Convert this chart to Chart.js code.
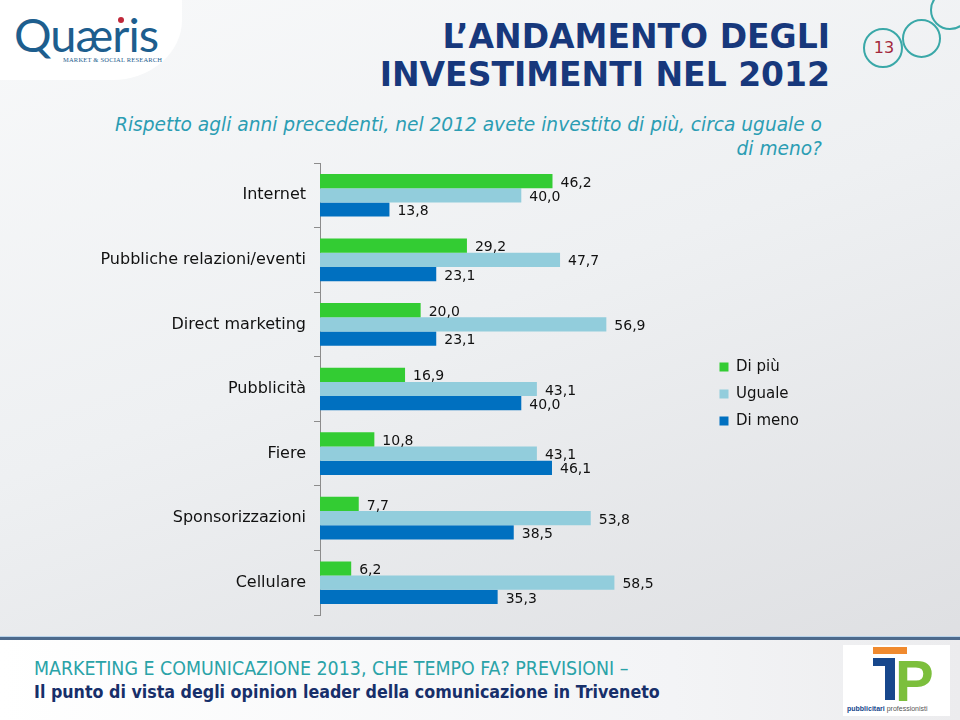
<!DOCTYPE html>
<html>
<head>
<meta charset="utf-8">
<script src="https://cdn.jsdelivr.net/npm/chart.js@4.4.0/dist/chart.umd.min.js"></script>
<style>
  html, body { margin: 0; padding: 0; }
  body {
    width: 960px; height: 720px; position: relative; overflow: hidden;
    background: linear-gradient(160deg, #f8f9fa 0%, #eef0f2 45%, #dcdde0 100%);
    font-family: "DejaVu Sans", Verdana, sans-serif;
  }
  .blob {
    position: absolute; left: 0; top: 0; width: 182px; height: 80px;
    background: #fff; border-bottom-right-radius: 70px 60px;
  }
  .logo {
    position: absolute; left: 14px; top: 6px; font-family: Lato, sans-serif;
    font-size: 47px; color: #1d5e8e; letter-spacing: -1px;
  }
  .logo-sub {
    position: absolute; left: 63px; top: 56px; font-size: 6.5px; color: #1d5e8e;
    font-family: "Liberation Serif", serif; letter-spacing: 0.2px;
  }
  .logo-dot { position: absolute; left: 118px; top: 17px; width: 6px; height: 6px; border-radius: 50%; background: #c0283a; }
  .title {
    position: absolute; right: 130px; top: 18px; text-align: right;
    font-weight: bold; font-size: 33px; line-height: 38px; color: #17387c;
  }
  .subtitle {
    position: absolute; right: 138px; top: 113px; text-align: right;
    font-style: italic; font-size: 18.6px; line-height: 24px; color: #2b9db3;
  }
  .circle { position: absolute; border: 2px solid #3aa8a8; border-radius: 50%; box-sizing: border-box; }
  .pagenum { position: absolute; left: 864px; top: 38px; width: 40px; text-align: center; font-size: 16px; color: #a3283c; }
  .footline { position: absolute; left: 0; top: 636px; width: 960px; height: 3px; background: #4d6a8c; border-top: 1px solid #b9d3ea; }
  .footer { position: absolute; left: 0; top: 640px; width: 960px; height: 80px; background: linear-gradient(90deg, #ffffff, #f3f4f6 70%, #ececee); }
  .f1 { position: absolute; left: 34px; top: 657px; font-family: "DejaVu Sans Condensed", "DejaVu Sans", sans-serif; font-size: 19.4px; color: #2aa3a8; }
  .f2 { position: absolute; left: 34px; top: 682px; font-family: "DejaVu Sans Condensed", "DejaVu Sans", sans-serif; font-weight: bold; font-size: 17.7px; color: #172f6a; }
  .tp { position: absolute; left: 843px; top: 645px; width: 107px; height: 71px; background: #fff; }
  .tp-bar { position: absolute; left: 30px; top: 2px; width: 34px; height: 7px; background: #f08a2e; }
  .tp-t1 { position: absolute; left: 30px; top: 13px; width: 22px; height: 8px; background: #17478c; }
  .tp-t2 { position: absolute; left: 42px; top: 13px; width: 10px; height: 42px; background: #17478c; }
  .tp-p { position: absolute; left: 52px; top: 7px; font-family: "Liberation Sans", sans-serif; font-weight: bold; font-size: 58px; line-height: 58px; color: #7cbf3c; }
  .tp-txt { position: absolute; left: 4px; top: 60px; font-family: "Liberation Sans", sans-serif; font-size: 7px; color: #17478c; white-space: nowrap; }
  .tp-txt span { color: #555; font-weight: normal; }
  #wrap { position: absolute; left: 0; top: 150px; width: 960px; height: 480px; }
</style>
</head>
<body>
<div class="blob"></div>
<div class="logo">Quæris</div>
<div class="logo-dot"></div>
<div class="logo-sub">MARKET &amp; SOCIAL RESEARCH</div>

<div class="title">L’ANDAMENTO DEGLI<br>INVESTIMENTI NEL 2012</div>

<div class="circle" style="left:863px;top:28px;width:40px;height:40px;"></div>
<div class="circle" style="left:902px;top:19px;width:39px;height:39px;"></div>
<div class="circle" style="left:930px;top:-10px;width:40px;height:40px;"></div>
<div class="pagenum">13</div>

<div class="subtitle">Rispetto agli anni precedenti, nel 2012 avete investito di più, circa uguale o<br>di meno?</div>

<div id="wrap"><canvas id="chart"></canvas></div>

<div class="footer"></div>
<div class="footline"></div>
<div class="f1">MARKETING E COMUNICAZIONE 2013, CHE TEMPO FA? PREVISIONI –</div>
<div class="f2">Il punto di vista degli opinion leader della comunicazione in Triveneto</div>
<div class="tp">
  <div class="tp-bar"></div>
  <div class="tp-t1"></div>
  <div class="tp-t2"></div>
  <div class="tp-p">P</div>
  <div class="tp-txt"><b>pubblicitari</b> <span>professionisti</span></div>
</div>

<script>
// categorie e valori (%)
const categories = ['Internet', 'Pubbliche relazioni/eventi', 'Direct marketing', 'Pubblicità', 'Fiere', 'Sponsorizzazioni', 'Cellulare'];
const diPiu = [46.2, 29.2, 20.0, 16.9, 10.8, 7.7, 6.2];
const uguale = [40.0, 47.7, 56.9, 43.1, 43.1, 53.8, 58.5];
const diMeno = [13.8, 23.1, 23.1, 40.0, 46.1, 38.5, 35.3];
const seriesNames = ['Di più', 'Uguale', 'Di meno'];

// etichette con i valori a fine barra
const valueLabels = {
  id: 'valueLabels',
  afterDatasetsDraw(chart) {
    const ctx = chart.ctx;
    ctx.save();
    ctx.font = '14px "DejaVu Sans"';
    ctx.fillStyle = '#111';
    ctx.textBaseline = 'middle';
    chart.data.datasets.forEach((ds, i) => {
      chart.getDatasetMeta(i).data.forEach((bar, j) => {
        ctx.fillText(ds.data[j].toFixed(1).replace('.', ','), bar.x + 8, bar.y + 2);
      });
    });
    ctx.restore();
  }
};

const ctx = document.getElementById('chart').getContext('2d');
new Chart(ctx, {
  type: 'bar',
  data: {
    labels: categories,
    datasets: [
      { label: seriesNames[0], data: diPiu, backgroundColor: '#33cc33' },
      { label: seriesNames[1], data: uguale, backgroundColor: '#92cddc' },
      { label: seriesNames[2], data: diMeno, backgroundColor: '#0070c0' }
    ]
  },
  options: {
    indexAxis: 'y',
    responsive: true,
    maintainAspectRatio: false,
    animation: false,
    barPercentage: 1,
    categoryPercentage: 0.66,
    layout: { padding: { top: 13, bottom: 15, left: 0, right: 151 } },
    scales: {
      x: { display: false, min: 0, max: 77 },
      y: {
        afterFit: (scale) => {
          scale.width = 320;
          scale.paddingTop = 0;
          scale.paddingBottom = 0;
        },
        border: { color: '#8c8c8c' },
        grid: { drawOnChartArea: false, tickLength: 6, color: '#8c8c8c' },
        ticks: { color: '#111', padding: 8, font: { family: 'DejaVu Sans', size: 16 } }
      }
    },
    plugins: {
      legend: {
        position: 'right',
        title: { display: true, text: ' ', padding: 0, font: { size: 10, lineHeight: 1.0 } },
        labels: { boxWidth: 9, boxHeight: 9, padding: 12, color: '#111', font: { family: 'DejaVu Sans', size: 15 } }
      },
      tooltip: { enabled: false }
    }
  },
  plugins: [valueLabels]
});
</script>
</body>
</html>
